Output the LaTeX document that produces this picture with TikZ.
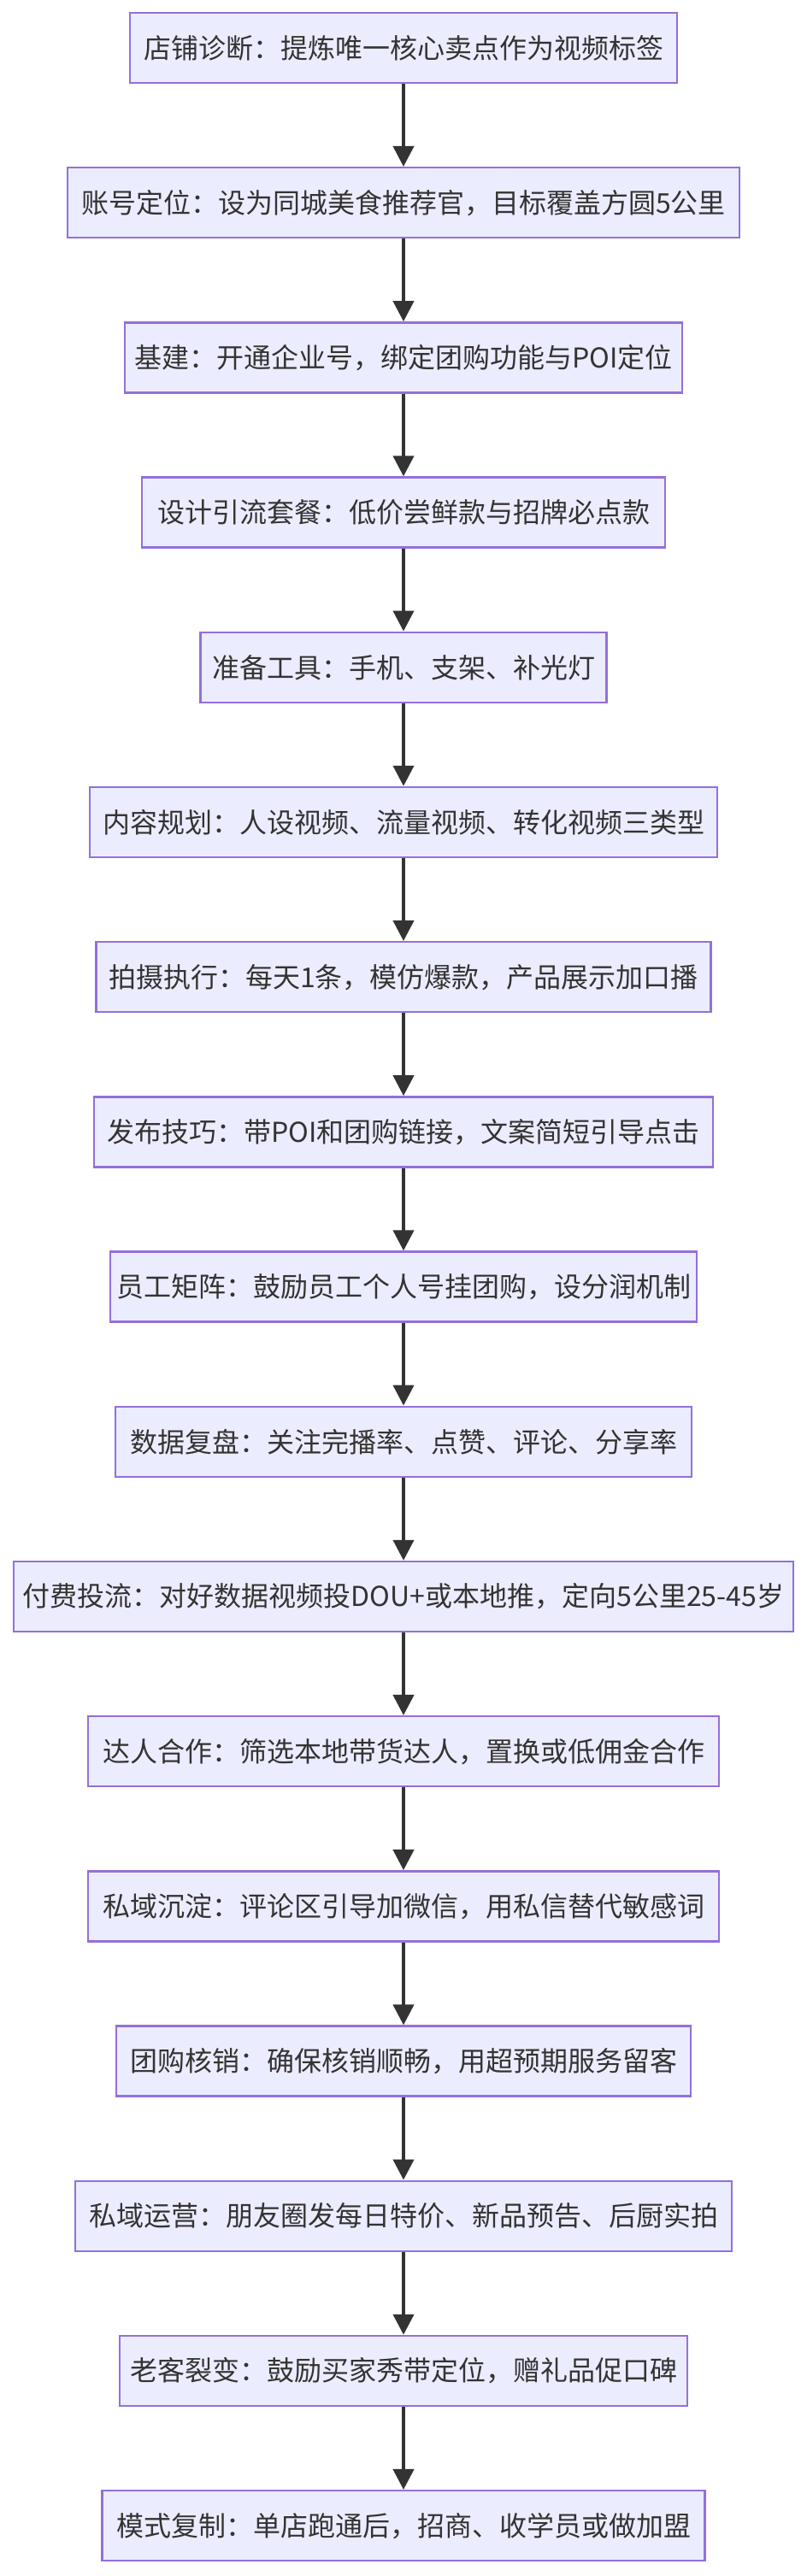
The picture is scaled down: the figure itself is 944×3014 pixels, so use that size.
\documentclass[tikz,border=0pt]{standalone}
\usepackage{fontspec}
\setmainfont{Noto Sans CJK SC}
\usetikzlibrary{arrows.meta}
\definecolor{boxfill}{HTML}{ECECFF}
\definecolor{boxline}{HTML}{9370DB}
\definecolor{ink}{HTML}{333333}
\begin{document}
\begin{tikzpicture}[x=1pt,y=1pt,
  stepbox/.style={draw=boxline, line width=2.5pt, fill=boxfill, text=ink,
    minimum height=82pt, inner xsep=4pt, inner ysep=0pt, anchor=center,
    font=\fontsize{32}{36}\selectfont},
  flow/.style={draw=ink, line width=4pt, -{Triangle[width=24pt,length=24pt]}}]
\useasboundingbox (0,0) rectangle (944,-3014);
\node[stepbox, minimum width=640pt] (n1) at (472,{-(56+181.2*0)}) {店铺诊断：提炼唯一核心卖点作为视频标签};
\node[stepbox, minimum width=786pt] (n2) at (472,{-(56+181.2*1)}) {账号定位：设为同城美食推荐官，目标覆盖方圆5公里};
\node[stepbox, minimum width=652pt] (n3) at (472,{-(56+181.2*2)}) {基建：开通企业号，绑定团购功能与POI定位};
\node[stepbox, minimum width=612pt] (n4) at (472,{-(56+181.2*3)}) {设计引流套餐：低价尝鲜款与招牌必点款};
\node[stepbox, minimum width=475pt] (n5) at (472,{-(56+181.2*4)}) {准备工具：手机、支架、补光灯};
\node[stepbox, minimum width=734pt] (n6) at (472,{-(56+181.2*5)}) {内容规划：人设视频、流量视频、转化视频三类型};
\node[stepbox, minimum width=719pt] (n7) at (472,{-(56+181.2*6)}) {拍摄执行：每天1条，模仿爆款，产品展示加口播};
\node[stepbox, minimum width=724pt] (n8) at (472,{-(56+181.2*7)}) {发布技巧：带POI和团购链接，文案简短引导点击};
\node[stepbox, minimum width=686pt] (n9) at (472,{-(56+181.2*8)}) {员工矩阵：鼓励员工个人号挂团购，设分润机制};
\node[stepbox, minimum width=674pt] (n10) at (472,{-(56+181.2*9)}) {数据复盘：关注完播率、点赞、评论、分享率};
\node[stepbox, minimum width=912pt] (n11) at (472,{-(56+181.2*10)}) {付费投流：对好数据视频投DOU+或本地推，定向5公里25-45岁};
\node[stepbox, minimum width=738pt] (n12) at (472,{-(56+181.2*11)}) {达人合作：筛选本地带货达人，置换或低佣金合作};
\node[stepbox, minimum width=738pt] (n13) at (472,{-(56+181.2*12)}) {私域沉淀：评论区引导加微信，用私信替代敏感词};
\node[stepbox, minimum width=672pt] (n14) at (472,{-(56+181.2*13)}) {团购核销：确保核销顺畅，用超预期服务留客};
\node[stepbox, minimum width=768pt] (n15) at (472,{-(56+181.2*14)}) {私域运营：朋友圈发每日特价、新品预告、后厨实拍};
\node[stepbox, minimum width=664pt] (n16) at (472,{-(56+181.2*15)}) {老客裂变：鼓励买家秀带定位，赠礼品促口碑};
\node[stepbox, minimum width=705pt] (n17) at (472,{-(56+181.2*16)}) {模式复制：单店跑通后，招商、收学员或做加盟};
\foreach \a/\b in {n1/n2,n2/n3,n3/n4,n4/n5,n5/n6,n6/n7,n7/n8,n8/n9,n9/n10,n10/n11,n11/n12,n12/n13,n13/n14,n14/n15,n15/n16,n16/n17}
  \draw[flow] (\a.south) -- (\b.north);
\end{tikzpicture}
\end{document}
